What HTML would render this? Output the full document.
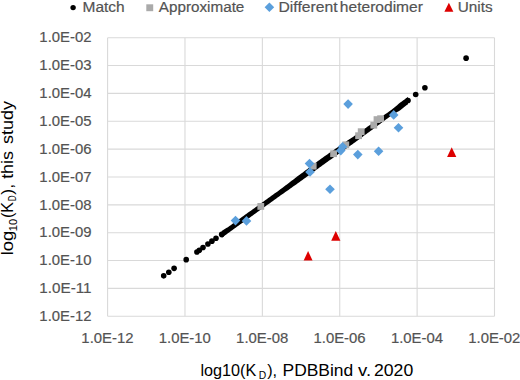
<!DOCTYPE html>
<html><head><meta charset="utf-8"><style>
html,body{margin:0;padding:0;background:#fff;}
body{width:520px;height:380px;overflow:hidden;}
svg{display:block;font-family:"Liberation Sans",sans-serif;}
</style></head><body>
<svg width="520" height="380" viewBox="0 0 520 380">
<g stroke="#d9d9d9" stroke-width="1.1"><line x1="107.60" y1="37.70" x2="107.60" y2="316.25"/><line x1="184.98" y1="37.70" x2="184.98" y2="316.25"/><line x1="262.36" y1="37.70" x2="262.36" y2="316.25"/><line x1="339.74" y1="37.70" x2="339.74" y2="316.25"/><line x1="417.12" y1="37.70" x2="417.12" y2="316.25"/><line x1="494.50" y1="37.70" x2="494.50" y2="316.25"/><line x1="107.60" y1="37.70" x2="494.50" y2="37.70"/><line x1="107.60" y1="65.56" x2="494.50" y2="65.56"/><line x1="107.60" y1="93.41" x2="494.50" y2="93.41"/><line x1="107.60" y1="121.27" x2="494.50" y2="121.27"/><line x1="107.60" y1="149.12" x2="494.50" y2="149.12"/><line x1="107.60" y1="176.98" x2="494.50" y2="176.98"/><line x1="107.60" y1="204.83" x2="494.50" y2="204.83"/><line x1="107.60" y1="232.69" x2="494.50" y2="232.69"/><line x1="107.60" y1="260.54" x2="494.50" y2="260.54"/><line x1="107.60" y1="288.39" x2="494.50" y2="288.39"/><line x1="107.60" y1="316.25" x2="494.50" y2="316.25"/></g>
<g fill="#535353" stroke="#535353" stroke-width="0.2"><text x="39.36" y="42.40" font-size="15.5" textLength="52.13" lengthAdjust="spacingAndGlyphs">1.0E-02</text><text x="39.36" y="70.26" font-size="15.5" textLength="52.13" lengthAdjust="spacingAndGlyphs">1.0E-03</text><text x="39.36" y="98.11" font-size="15.5" textLength="52.13" lengthAdjust="spacingAndGlyphs">1.0E-04</text><text x="39.36" y="125.97" font-size="15.5" textLength="52.13" lengthAdjust="spacingAndGlyphs">1.0E-05</text><text x="39.36" y="153.82" font-size="15.5" textLength="52.13" lengthAdjust="spacingAndGlyphs">1.0E-06</text><text x="39.36" y="181.68" font-size="15.5" textLength="52.13" lengthAdjust="spacingAndGlyphs">1.0E-07</text><text x="39.36" y="209.53" font-size="15.5" textLength="52.13" lengthAdjust="spacingAndGlyphs">1.0E-08</text><text x="39.36" y="237.38" font-size="15.5" textLength="52.13" lengthAdjust="spacingAndGlyphs">1.0E-09</text><text x="39.36" y="265.24" font-size="15.5" textLength="52.13" lengthAdjust="spacingAndGlyphs">1.0E-10</text><text x="39.36" y="293.09" font-size="15.5" textLength="52.13" lengthAdjust="spacingAndGlyphs">1.0E-11</text><text x="39.36" y="320.95" font-size="15.5" textLength="52.13" lengthAdjust="spacingAndGlyphs">1.0E-12</text><text x="81.36" y="342.70" font-size="15.5" textLength="52.13" lengthAdjust="spacingAndGlyphs">1.0E-12</text><text x="158.74" y="342.70" font-size="15.5" textLength="52.13" lengthAdjust="spacingAndGlyphs">1.0E-10</text><text x="236.12" y="342.70" font-size="15.5" textLength="52.13" lengthAdjust="spacingAndGlyphs">1.0E-08</text><text x="313.50" y="342.70" font-size="15.5" textLength="52.13" lengthAdjust="spacingAndGlyphs">1.0E-06</text><text x="390.88" y="342.70" font-size="15.5" textLength="52.13" lengthAdjust="spacingAndGlyphs">1.0E-04</text><text x="468.26" y="342.70" font-size="15.5" textLength="52.13" lengthAdjust="spacingAndGlyphs">1.0E-02</text></g>
<g fill="#000"><circle cx="163.70" cy="275.86" r="2.8"/><circle cx="168.80" cy="272.19" r="2.8"/><circle cx="174.10" cy="268.37" r="2.8"/><circle cx="186.20" cy="259.66" r="2.8"/><circle cx="196.90" cy="251.96" r="2.8"/><circle cx="199.30" cy="250.23" r="2.8"/><circle cx="203.00" cy="247.57" r="2.8"/><circle cx="207.90" cy="244.04" r="2.8"/><circle cx="211.90" cy="241.16" r="2.8"/><circle cx="216.00" cy="238.21" r="2.8"/><polygon points="221.70,230.95 223.25,230.00 224.80,229.05 226.36,228.10 227.91,227.14 229.46,226.03 231.01,224.92 232.57,223.80 234.12,222.68 235.67,221.56 237.22,220.45 238.78,219.33 240.33,218.21 241.88,217.09 243.44,215.97 244.99,214.86 246.54,213.74 248.09,212.62 249.64,211.50 251.20,210.39 252.75,209.27 254.30,208.15 255.85,207.03 257.41,205.92 258.96,204.80 260.51,203.68 262.06,202.56 263.62,201.44 265.17,200.33 266.72,199.21 268.27,198.09 269.83,196.97 271.38,195.86 272.93,194.74 274.49,193.62 276.04,192.50 277.59,191.38 279.14,190.27 280.69,189.12 282.25,187.94 283.80,186.75 285.35,185.57 286.90,184.38 288.46,183.20 290.01,182.02 291.56,180.83 293.12,179.65 294.67,178.47 296.22,177.28 297.77,176.11 299.32,174.96 300.88,173.80 302.43,172.65 303.98,171.49 305.53,170.34 307.09,169.19 308.64,168.03 310.19,166.88 311.75,165.72 313.30,164.57 314.85,163.41 316.40,162.26 317.95,161.10 319.51,159.95 321.06,158.79 322.61,157.64 324.16,156.55 325.72,155.49 327.27,154.42 328.82,153.36 330.38,152.30 331.93,151.23 333.48,150.17 335.03,149.10 336.58,148.04 338.14,146.97 339.69,145.91 341.24,144.85 342.80,143.79 344.35,142.74 345.90,141.68 347.45,140.62 349.00,139.57 350.56,138.51 352.11,137.45 353.66,136.39 355.22,135.33 356.77,134.24 358.32,133.15 359.87,132.06 361.42,130.97 362.98,129.88 364.53,128.79 366.08,127.70 367.63,126.61 369.19,125.52 370.74,124.43 372.29,123.34 373.85,122.25 375.40,121.16 376.95,120.07 378.50,118.98 380.06,117.89 381.61,116.80 383.16,115.70 384.71,114.61 386.26,113.51 387.82,112.42 389.37,111.32 390.92,110.22 392.48,109.06 394.03,107.75 395.58,106.44 397.13,105.13 398.69,103.82 400.24,102.55 401.79,101.44 403.34,100.33 404.89,99.22 406.45,98.11 408.00,97.00 408.00,104.15 406.45,105.35 404.89,106.56 403.34,107.76 401.79,108.97 400.24,110.17 398.69,111.14 397.13,112.07 395.58,112.99 394.03,113.92 392.48,114.85 390.92,115.92 389.37,117.06 387.82,118.20 386.26,119.34 384.71,120.48 383.16,121.61 381.61,122.76 380.06,123.90 378.50,125.05 376.95,126.19 375.40,127.34 373.85,128.48 372.29,129.63 370.74,130.77 369.19,131.92 367.63,133.06 366.08,134.21 364.53,135.35 362.98,136.50 361.42,137.64 359.87,138.79 358.32,139.94 356.77,141.08 355.22,142.23 353.66,143.33 352.11,144.42 350.56,145.52 349.00,146.61 347.45,147.71 345.90,148.80 344.35,149.90 342.80,151.00 341.24,152.09 339.69,153.19 338.14,154.29 336.58,155.38 335.03,156.48 333.48,157.58 331.93,158.68 330.38,159.78 328.82,160.87 327.27,161.97 325.72,163.07 324.16,164.17 322.61,165.27 321.06,166.40 319.51,167.53 317.95,168.66 316.40,169.79 314.85,170.92 313.30,172.05 311.75,173.17 310.19,174.30 308.64,175.43 307.09,176.56 305.53,177.69 303.98,178.82 302.43,179.95 300.88,181.08 299.32,182.20 297.77,183.33 296.22,184.44 294.67,185.53 293.12,186.62 291.56,187.71 290.01,188.79 288.46,189.88 286.90,190.97 285.35,192.06 283.80,193.15 282.25,194.24 280.69,195.32 279.14,196.43 277.59,197.55 276.04,198.66 274.49,199.78 272.93,200.90 271.38,202.02 269.83,203.13 268.27,204.25 266.72,205.37 265.17,206.49 263.62,207.61 262.06,208.72 260.51,209.84 258.96,210.96 257.41,212.08 255.85,213.19 254.30,214.31 252.75,215.43 251.20,216.55 249.64,217.66 248.09,218.78 246.54,219.90 244.99,221.02 243.44,222.14 241.88,223.25 240.33,224.37 238.78,225.49 237.22,226.61 235.67,227.72 234.12,228.84 232.57,229.96 231.01,231.08 229.46,232.20 227.91,233.31 226.36,234.45 224.80,235.58 223.25,236.72 221.70,237.85"/><circle cx="221.7" cy="234.40" r="2.8"/><circle cx="408" cy="100.48" r="2.8"/><circle cx="415.7" cy="94.43" r="2.8"/><circle cx="424.9" cy="87.81" r="2.8"/><circle cx="466.1" cy="58.15" r="2.8"/></g>
<g fill="#aaaaaa"><rect x="257.40" y="203.00" width="6.8" height="6.8"/><rect x="309.80" y="162.80" width="6.8" height="6.8"/><rect x="330.20" y="150.30" width="6.8" height="6.8"/><rect x="342.40" y="141.40" width="6.8" height="6.8"/><rect x="355.20" y="132.30" width="6.8" height="6.8"/><rect x="357.80" y="128.30" width="6.8" height="6.8"/><rect x="370.40" y="121.80" width="6.8" height="6.8"/><rect x="373.60" y="116.20" width="6.8" height="6.8"/><rect x="377.20" y="115.30" width="6.8" height="6.8"/></g>
<g fill="#5b9fdc"><path d="M230.70 220.60L235.50 215.80L240.30 220.60L235.50 225.40Z"/><path d="M241.70 220.90L246.50 216.10L251.30 220.90L246.50 225.70Z"/><path d="M304.70 163.60L309.50 158.80L314.30 163.60L309.50 168.40Z"/><path d="M305.20 172.00L310.00 167.20L314.80 172.00L310.00 176.80Z"/><path d="M325.20 189.30L330.00 184.50L334.80 189.30L330.00 194.10Z"/><path d="M336.00 150.60L340.80 145.80L345.60 150.60L340.80 155.40Z"/><path d="M337.80 146.80L342.60 142.00L347.40 146.80L342.60 151.60Z"/><path d="M343.30 104.10L348.10 99.30L352.90 104.10L348.10 108.90Z"/><path d="M353.00 154.60L357.80 149.80L362.60 154.60L357.80 159.40Z"/><path d="M373.80 151.30L378.60 146.50L383.40 151.30L378.60 156.10Z"/><path d="M388.90 114.90L393.70 110.10L398.50 114.90L393.70 119.70Z"/><path d="M393.70 127.70L398.50 122.90L403.30 127.70L398.50 132.50Z"/></g>
<g fill="#dd0000"><path d="M308.10 251.10L312.55 260.50L303.65 260.50Z"/><path d="M335.80 231.10L340.40 240.80L331.20 240.80Z"/><path d="M451.70 147.20L456.30 157.00L447.10 157.00Z"/></g>
<circle cx="73.1" cy="7.6" r="2.7" fill="#000"/><rect x="146.3" y="4.3" width="6.9" height="6.9" fill="#aaaaaa"/><path d="M264.6 7.2L269.4 2.4L274.2 7.2L269.4 12Z" fill="#5b9fdc"/><path d="M448.9 2.8L453.4 11.7L444.4 11.7Z" fill="#dd0000"/><g fill="#535353" stroke="#535353" stroke-width="0.2"><text x="82.51" y="11.90" font-size="15.2" textLength="42.16" lengthAdjust="spacingAndGlyphs">Match</text><text x="158.85" y="11.90" font-size="15.2" textLength="85.50" lengthAdjust="spacingAndGlyphs">Approximate</text><text x="278.54" y="11.90" font-size="15.2" textLength="59.02" lengthAdjust="spacingAndGlyphs">Different</text><text x="339.87" y="11.90" font-size="15.2" textLength="83.04" lengthAdjust="spacingAndGlyphs">heterodimer</text><text x="457.73" y="11.90" font-size="15.2" textLength="34.93" lengthAdjust="spacingAndGlyphs">Units</text></g>
<g fill="#000"><text x="200.43" y="375.60" font-size="16.5" textLength="55.89" lengthAdjust="spacingAndGlyphs">log10(K</text><text x="258.67" y="379.20" font-size="10" textLength="7.46" lengthAdjust="spacingAndGlyphs">D</text><text x="267.20" y="375.60" font-size="16.5" textLength="9.93" lengthAdjust="spacingAndGlyphs">),</text><text x="282.50" y="375.60" font-size="16.5" textLength="70.77" lengthAdjust="spacingAndGlyphs">PDBBind</text><text x="358.10" y="375.60" font-size="16.5" textLength="13.03" lengthAdjust="spacingAndGlyphs">v.</text><text x="374.02" y="375.60" font-size="16.5" textLength="39.22" lengthAdjust="spacingAndGlyphs">2020</text></g>
<g fill="#000" transform="rotate(-90)"><text x="-255.30" y="12.60" font-size="16.5" textLength="24.54" lengthAdjust="spacingAndGlyphs">log</text><text x="-231.28" y="16.90" font-size="10.5" textLength="12.38" lengthAdjust="spacingAndGlyphs">10</text><text x="-218.07" y="12.60" font-size="16.5" textLength="16.18" lengthAdjust="spacingAndGlyphs">(K</text><text x="-201.14" y="16.30" font-size="10" textLength="5.78" lengthAdjust="spacingAndGlyphs">D</text><text x="-194.70" y="12.60" font-size="16.5" textLength="10.86" lengthAdjust="spacingAndGlyphs">),</text><text x="-178.88" y="12.60" font-size="16.5" textLength="27.92" lengthAdjust="spacingAndGlyphs">this</text><text x="-143.96" y="12.60" font-size="16.5" textLength="42.96" lengthAdjust="spacingAndGlyphs">study</text></g>
</svg>
</body></html>
